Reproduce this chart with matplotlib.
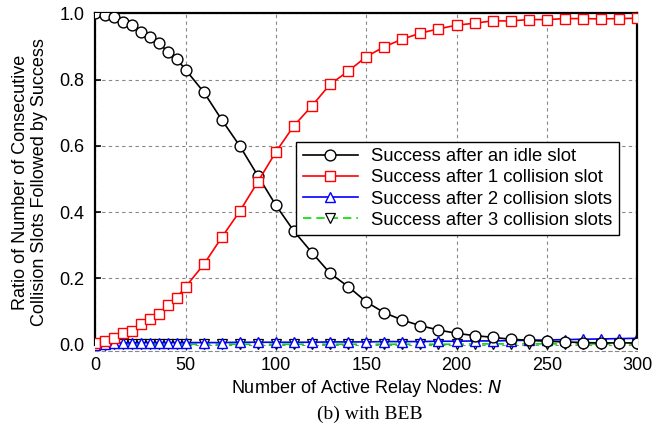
import numpy as np
from matplotlib import pyplot as plt

# ---------------------------------------------------------------------------------------------------
# Data
# ---------------------------------------------------------------------------------------------------
n_nodes = [0, 5, 10, 15, 20, 25, 30, 35, 40, 45, 50,
           60, 70, 80, 90, 100, 110, 120, 130, 140, 150,
           160, 170, 180, 190, 200, 210, 220, 230, 240, 250,
           260, 270, 280, 290, 300]

after_idle = [1.000, 0.995, 0.988, 0.973, 0.965, 0.944, 0.928, 0.911, 0.884, 0.862, 0.829,
              0.762, 0.678, 0.599, 0.509, 0.420, 0.342, 0.277, 0.215, 0.175, 0.129,
              0.096, 0.074, 0.057, 0.044, 0.034, 0.027, 0.022, 0.016, 0.013, 0.010,
              0.008, 0.006, 0.005, 0.005, 0.005]

after_1_coll = [0.004, 0.011, 0.019, 0.034, 0.042, 0.061, 0.076, 0.091, 0.119, 0.142, 0.175,
                0.242, 0.324, 0.403, 0.492, 0.582, 0.661, 0.721, 0.786, 0.825, 0.869,
                0.899, 0.922, 0.940, 0.953, 0.964, 0.970, 0.977, 0.977, 0.981, 0.981,
                0.984, 0.984, 0.983, 0.984, 0.985]

after_2_coll = [0.000, 0.002, 0.004, 0.005, 0.005, 0.006, 0.006, 0.006, 0.006, 0.006, 0.006,
                0.006, 0.006, 0.007, 0.007, 0.007, 0.007, 0.007, 0.008, 0.008, 0.008,
                0.009, 0.009, 0.009, 0.010, 0.010, 0.011, 0.011, 0.012, 0.013, 0.014,
                0.015, 0.016, 0.017, 0.018, 0.019]

after_3_coll = [0.000, 0.000, 0.001, 0.001, 0.001, 0.001, 0.001, 0.001, 0.001, 0.001, 0.001,
                0.001, 0.001, 0.001, 0.001, 0.001, 0.001, 0.001, 0.001, 0.001, 0.001,
                0.001, 0.001, 0.001, 0.001, 0.001, 0.002, 0.002, 0.002, 0.002, 0.002,
                0.002, 0.002, 0.002, 0.002, 0.002]

x_ticks = [0, 50, 100, 150, 200, 250, 300]
y_ticks = [0.0, 0.2, 0.4, 0.6, 0.8, 1.0]

# ---------------------------------------------------------------------------------------------------
# Plot
# ---------------------------------------------------------------------------------------------------
plt.rcParams['font.family'] = ['Liberation Sans', 'DejaVu Sans']
plt.rcParams['font.size'] = 13

fig = plt.figure(figsize=(6.65, 4.34), dpi=100)
ax = fig.add_axes([0.1436, 0.1908, 0.8143, 0.7786])

ax.plot(n_nodes, after_idle, color='black', lw=1.2, marker='o', ms=7.8,
        mfc='white', mec='black', mew=1.0, label='Success after an idle slot', zorder=3)
ax.plot(n_nodes, after_1_coll, color='red', lw=1.2, marker='s', ms=7,
        mfc='white', mec='red', mew=1.0, label='Success after 1 collision slot', zorder=3)
ax.plot(n_nodes, after_3_coll, color='#00dd00', lw=1.2, ls=(0, (5, 3)), marker='v', ms=6.5,
        mfc='white', mec='black', mew=0.9, label='Success after 3 collision slots', zorder=2)
ax.plot(n_nodes, after_2_coll, color='blue', lw=1.2, marker='^', ms=7,
        mfc='white', mec='blue', mew=1.0, label='Success after 2 collision slots', zorder=2)

ax.set_xlim(0, 300)
ax.set_ylim(-0.02, 1.0)
ax.set_xticks(x_ticks)
ax.set_yticks(y_ticks)
ax.set_yticklabels([f"{v:.1f}" for v in y_ticks])
ax.tick_params(direction='in', length=4, width=1.2, top=False, right=False, labelsize=13, pad=8)
ax.tick_params(axis='x', length=0, pad=4)

ax.grid(True, color='#888888', ls=(0, (3, 3)), lw=0.8)

for side in ['left', 'top', 'right']:
    ax.spines[side].set_linewidth(1.6)
ax.spines['left'].set_bounds(0, 1)
ax.spines['right'].set_bounds(0, 1)
ax.spines['bottom'].set_linestyle((0, (3, 3)))
ax.spines['bottom'].set_color('#888888')
ax.spines['bottom'].set_linewidth(0.8)

ax.set_xlabel('Number of Active Relay Nodes: $\\mathit{N}$', fontsize=13, labelpad=3)
ax.set_ylabel('Ratio of Number of Consecutive\nCollision Slots Followed by Success',
              fontsize=13, labelpad=8)

handles, labels = ax.get_legend_handles_labels()
order = [0, 1, 3, 2]
leg = ax.legend([handles[i] for i in order], [labels[i] for i in order],
                loc='upper right', bbox_to_anchor=(0.966, 0.620), fontsize=13.3,
                fancybox=False, framealpha=1, edgecolor='black', handlelength=3.0,
                borderpad=0.35, labelspacing=0.23, handletextpad=0.7, borderaxespad=0)
leg.get_frame().set_linewidth(1.0)

fig.text(0.556, 0.045, '(b) with BEB', ha='center', va='center',
         family=['Liberation Serif', 'DejaVu Serif'], fontsize=14)

fig.savefig('out.png', dpi=100)
